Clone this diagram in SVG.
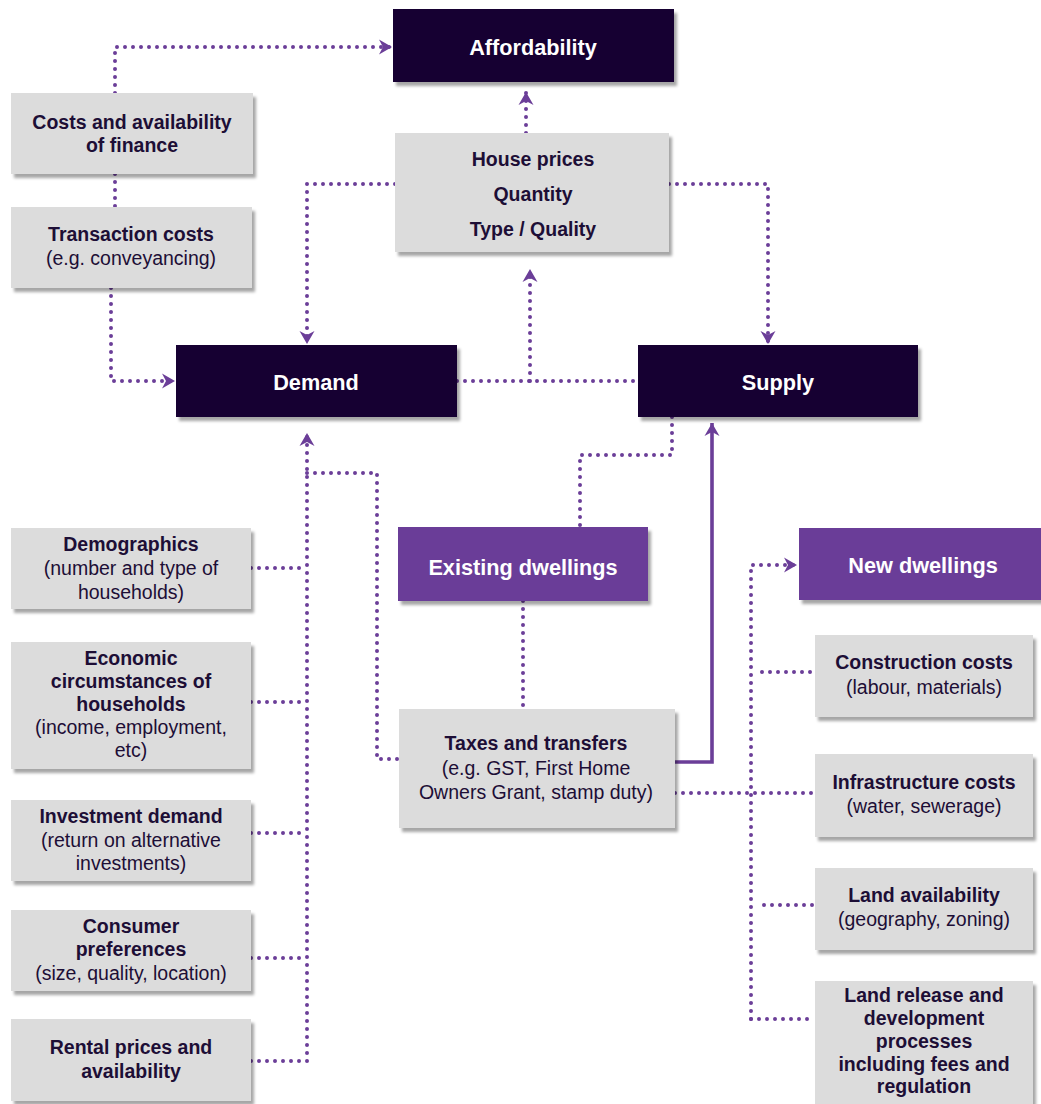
<svg xmlns="http://www.w3.org/2000/svg" width="1041" height="1104" viewBox="0 0 1041 1104">
<defs>
<filter id="sh" x="-5%" y="-5%" width="115%" height="125%">
<feDropShadow dx="3" dy="4" stdDeviation="1.6" flood-color="#000" flood-opacity="0.35"/>
</filter>
<marker id="arr" markerUnits="userSpaceOnUse" markerWidth="16" markerHeight="16" refX="13" refY="8" orient="auto">
<path d="M0,0.5 L13,8 L0,15.5 L4,8 Z" fill="#6b3e98"/>
</marker>
</defs>
<style>
.dark{fill:#160033;filter:url(#sh)}
.purp{fill:#6b3e98;filter:url(#sh)}
.grey{fill:#dcdcdc;filter:url(#sh)}
text{font-family:"Liberation Sans",Arial,sans-serif;text-anchor:middle;font-size:19.5px;fill:#1d0e36}
.b{font-weight:bold}
.w{fill:#ffffff;font-weight:bold;font-size:21.7px}
.dot{fill:none;stroke:#6b3e98;stroke-width:4;stroke-linecap:round;stroke-dasharray:0 8}
.solid{fill:none;stroke:#6b3e98;stroke-width:3.6}
</style>
<g id="connectors">
<path class="dot" d="M115,93 V47 H392" marker-end="url(#arr)"/>
<path class="dot" d="M115,174 V207"/>
<path class="dot" d="M111,288 V381 H175" marker-end="url(#arr)"/>
<path class="dot" d="M526,133 V92" marker-end="url(#arr)"/>
<path class="dot" d="M395,184 H307 V344" marker-end="url(#arr)"/>
<path class="dot" d="M669,184 H768 V344" marker-end="url(#arr)"/>
<path class="dot" d="M457,381 H638"/>
<path class="dot" d="M530,381 V269" marker-end="url(#arr)"/>
<path class="dot" d="M672,417 V455 H580 V527"/>
<path class="dot" d="M523,601 V709"/>
<path class="solid" d="M675,762 H712 V423" marker-end="url(#arr)"/>
<path class="dot" d="M307,1061 V433" marker-end="url(#arr)"/>
<path class="dot" d="M251,568 H307"/>
<path class="dot" d="M251,702 H307"/>
<path class="dot" d="M251,833 H307"/>
<path class="dot" d="M251,958 H307"/>
<path class="dot" d="M251,1061 H307"/>
<path class="dot" d="M307,473 H377 V759 H399"/>
<path class="dot" d="M751,1019 V565 H797" marker-end="url(#arr)"/>
<path class="dot" d="M762,672 H815"/>
<path class="dot" d="M675,793 H815"/>
<path class="dot" d="M764,905 H815"/>
<path class="dot" d="M751,1019 H815"/>
</g>
<g id="affordability"><rect class="dark" x="393" y="9" width="281" height="73"/><text class="w" x="533" y="55">Affordability</text></g>
<g id="finance"><rect class="grey" x="11" y="93" width="242" height="81"/><text class="b" x="132" y="129">Costs and availability</text><text class="b" x="132" y="152">of finance</text></g>
<g id="transaction"><rect class="grey" x="11" y="207" width="241" height="81"/><text class="b" x="131" y="241">Transaction costs</text><text x="131" y="265">(e.g. conveyancing)</text></g>
<g id="houseprices"><rect class="grey" x="395" y="133" width="274" height="119"/><text class="b" x="533" y="166">House prices</text><text class="b" x="533" y="201">Quantity</text><text class="b" x="533" y="236">Type / Quality</text></g>
<g id="demand"><rect class="dark" x="176" y="345" width="281" height="72"/><text class="w" x="316" y="390">Demand</text></g>
<g id="supply"><rect class="dark" x="638" y="345" width="280" height="72"/><text class="w" x="778" y="390">Supply</text></g>
<g id="existing"><rect class="purp" x="398" y="527" width="250" height="74"/><text class="w" x="523" y="575">Existing dwellings</text></g>
<g id="new"><rect class="purp" x="799" y="528" width="250" height="72"/><text class="w" x="923" y="573">New dwellings</text></g>
<g id="demographics"><rect class="grey" x="11" y="528" width="240" height="81"/><text class="b" x="131" y="551">Demographics</text><text x="131" y="575">(number and type of</text><text x="131" y="599">households)</text></g>
<g id="economic"><rect class="grey" x="11" y="642" width="240" height="127"/><text class="b" x="131" y="665">Economic</text><text class="b" x="131" y="688">circumstances of</text><text class="b" x="131" y="711">households</text><text x="131" y="734">(income, employment,</text><text x="131" y="757">etc)</text></g>
<g id="investment"><rect class="grey" x="11" y="800" width="240" height="81"/><text class="b" x="131" y="823">Investment demand</text><text x="131" y="847">(return on alternative</text><text x="131" y="870">investments)</text></g>
<g id="consumer"><rect class="grey" x="11" y="910" width="240" height="81"/><text class="b" x="131" y="933">Consumer</text><text class="b" x="131" y="956">preferences</text><text x="131" y="980">(size, quality, location)</text></g>
<g id="rental"><rect class="grey" x="11" y="1019" width="240" height="82"/><text class="b" x="131" y="1054">Rental prices and</text><text class="b" x="131" y="1078">availability</text></g>
<g id="taxes"><rect class="grey" x="399" y="709" width="276" height="119"/><text class="b" x="536" y="750">Taxes and transfers</text><text x="536" y="775">(e.g. GST, First Home</text><text x="536" y="799">Owners Grant, stamp duty)</text></g>
<g id="construction"><rect class="grey" x="815" y="635" width="218" height="82"/><text class="b" x="924" y="669">Construction costs</text><text x="924" y="694">(labour, materials)</text></g>
<g id="infrastructure"><rect class="grey" x="815" y="754" width="218" height="83"/><text class="b" x="924" y="789">Infrastructure costs</text><text x="924" y="813">(water, sewerage)</text></g>
<g id="land"><rect class="grey" x="815" y="868" width="218" height="82"/><text class="b" x="924" y="902">Land availability</text><text x="924" y="926">(geography, zoning)</text></g>
<g id="landrelease"><rect class="grey" x="815" y="981" width="218" height="130"/><text class="b" x="924" y="1002">Land release and</text><text class="b" x="924" y="1025">development</text><text class="b" x="924" y="1048">processes</text><text class="b" x="924" y="1071">including fees and</text><text class="b" x="924" y="1093">regulation</text></g>
</svg>
